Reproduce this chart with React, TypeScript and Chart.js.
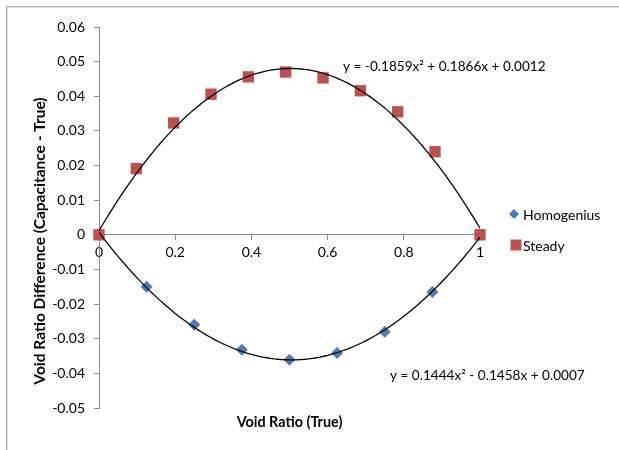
import React, { useEffect, useRef } from "react";
import { Chart, registerables } from "chart.js";

Chart.register(...registerables);

// ---- data ----
const seriesNames = ["Homogenius", "Steady"];
const homogeniusX = [0, 0.125, 0.25, 0.375, 0.5, 0.625, 0.75, 0.875, 1];
const homogeniusY = [0, -0.015, -0.026, -0.0332, -0.0361, -0.0341, -0.028, -0.0165, 0];
const steadyX = [0, 0.098, 0.196, 0.294, 0.392, 0.49, 0.588, 0.686, 0.784, 0.882, 1];
const steadyY = [0, 0.0191, 0.0323, 0.0406, 0.0456, 0.047, 0.0453, 0.0416, 0.0355, 0.024, 0];
// polynomial trendline coefficients [a, b, c] for y = a x^2 + b x + c (as printed on the chart)
const steadyFit = [-0.1859, 0.1866, 0.0012];
const homogeniusFit = [0.1444, -0.1458, 0.0007];
const steadyEquation = "y = -0.1859x² + 0.1866x + 0.0012";
const homogeniusEquation = "y = 0.1444x² - 0.1458x + 0.0007";
const xTickValues = [0, 0.2, 0.4, 0.6, 0.8, 1];
const yTickValues = [-0.05, -0.04, -0.03, -0.02, -0.01, 0, 0.01, 0.02, 0.03, 0.04, 0.05, 0.06];
const xTitle = "Void Ratio (True)";
const yTitle = "Void Ratio Difference (Capacitance - True)";

const BLUE = "#4A7EBB";
const RED = "#C0504D";
const AXIS = "#8c8c8c";
const FONT = "Lato";

function trend(coef: number[]) {
  const pts: { x: number; y: number }[] = [];
  const n = 100;
  for (let i = 0; i <= n; i++) {
    const x = xTickValues[0] + (xTickValues[xTickValues.length - 1] - xTickValues[0]) * (i / n);
    pts.push({ x, y: coef[0] * x * x + coef[1] * x + coef[2] });
  }
  return pts;
}

const overlay = {
  id: "overlay",
  afterDraw(chart: any) {
    const ctx = chart.ctx as CanvasRenderingContext2D;
    const { left, right } = chart.chartArea;
    ctx.save();
    // outer frame
    ctx.strokeStyle = "#b5b5b5";
    ctx.lineWidth = 1.5;
    ctx.beginPath();
    ctx.moveTo(6.75, 460);
    ctx.lineTo(6.75, 6.75);
    ctx.lineTo(640, 6.75);
    ctx.stroke();

    // axis titles
    ctx.fillStyle = "#000";
    ctx.font = `bold 14.4px ${FONT}`;
    ctx.textAlign = "center";
    ctx.textBaseline = "middle";
    ctx.fillText(xTitle, (left + right) / 2, 422);
    ctx.save();
    ctx.translate(40, 241);
    ctx.rotate(-Math.PI / 2);
    ctx.font = `bold 15.5px ${FONT}`;
    ctx.fillText(yTitle, 0, 0);
    ctx.restore();

    // trendline equations
    ctx.font = `13.6px ${FONT}`;
    ctx.textAlign = "left";
    ctx.fillText(steadyEquation, 343, 67);
    ctx.fillText(homogeniusEquation, 390, 376);

    // legend
    ctx.font = `14px ${FONT}`;
    ctx.fillStyle = BLUE;
    ctx.beginPath();
    ctx.moveTo(514, 209);
    ctx.lineTo(519, 214);
    ctx.lineTo(514, 219);
    ctx.lineTo(509, 214);
    ctx.closePath();
    ctx.fill();
    ctx.fillStyle = RED;
    ctx.fillRect(510.5, 239.5, 11, 11);
    ctx.fillStyle = "#000";
    ctx.fillText(seriesNames[0], 523, 215);
    ctx.fillText(seriesNames[1], 523, 246);
    ctx.restore();
  },
};

export default function App() {
  const ref = useRef<HTMLCanvasElement | null>(null);
  useEffect(() => {
    document.body.style.margin = "0";
    const canvas = ref.current!;
    const chart = new Chart(canvas, {
      type: "scatter",
      data: {
        datasets: [
          {
            label: seriesNames[0] + " trend",
            data: trend(homogeniusFit),
            showLine: true,
            borderColor: "#000",
            borderWidth: 1.3,
            pointRadius: 0,
            order: 0,
          },
          {
            label: seriesNames[1] + " trend",
            data: trend(steadyFit),
            showLine: true,
            borderColor: "#000",
            borderWidth: 1.3,
            pointRadius: 0,
            order: 0,
          },
          {
            label: seriesNames[1],
            data: steadyX.map((x, i) => ({ x, y: steadyY[i] })),
            pointStyle: "rect",
            pointRadius: 8,
            backgroundColor: RED,
            borderColor: RED,
            borderWidth: 0,
            clip: false as any,
            order: 1,
          },
          {
            label: seriesNames[0],
            data: homogeniusX.map((x, i) => ({ x, y: homogeniusY[i] })),
            pointStyle: "rectRot",
            pointRadius: 6,
            backgroundColor: BLUE,
            borderColor: BLUE,
            borderWidth: 0,
            clip: false as any,
            order: 2,
          },
        ],
      },
      options: {
        animation: false,
        responsive: false,
        devicePixelRatio: 1,
        layout: { padding: { left: 0, top: 27, right: 139, bottom: 42 } },
        plugins: {
          legend: { display: false },
          tooltip: { enabled: false },
        },
        scales: {
          x: {
            type: "linear",
            position: { y: 0 } as any,
            min: xTickValues[0],
            max: xTickValues[xTickValues.length - 1],
            afterBuildTicks: (s: any) => {
              s.ticks = xTickValues.map((v) => ({ value: v }));
            },
            ticks: {
              color: "#000",
              font: { family: FONT, size: 14 },
              padding: 4,
              maxRotation: 0,
              callback: (v: any) => String(Number(v).toFixed(1)).replace(/\.0$/, ""),
            },
            grid: { display: true, drawOnChartArea: false, drawTicks: true, tickLength: 5, color: AXIS },
            border: { display: true, color: AXIS, width: 1 },
          },
          y: {
            type: "linear",
            position: "left",
            min: yTickValues[0],
            max: yTickValues[yTickValues.length - 1],
            afterBuildTicks: (s: any) => {
              s.ticks = yTickValues.map((v) => ({ value: v }));
            },
            afterFit: (s: any) => {
              s.width = 99;
            },
            ticks: {
              color: "#000",
              font: { family: FONT, size: 14 },
              padding: 9,
              callback: (v: any) => (Math.abs(Number(v)) < 1e-9 ? "0" : Number(v).toFixed(2)),
            },
            grid: { display: true, drawOnChartArea: false, drawTicks: true, tickLength: 5, color: AXIS },
            border: { display: true, color: AXIS, width: 1 },
          },
        },
      },
      plugins: [overlay],
    });
    return () => chart.destroy();
  }, []);
  return (
    <div style={{ width: 619, height: 450, background: "#fff" }}>
      <canvas ref={ref} width={619} height={450} />
    </div>
  );
}
